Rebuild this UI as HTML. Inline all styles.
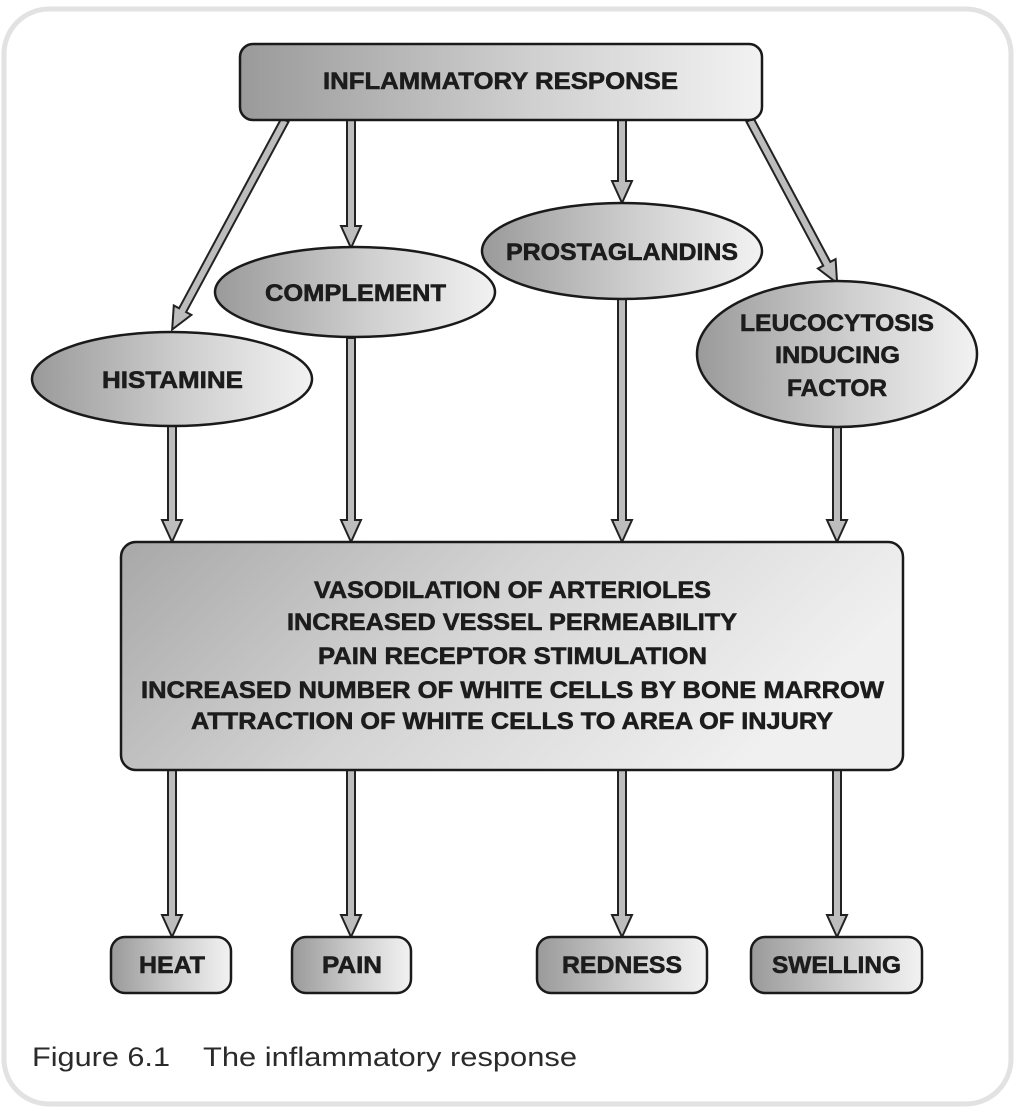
<!DOCTYPE html>
<html><head><meta charset="utf-8"><style>
html,body{margin:0;padding:0;background:#fff;}
svg{display:block;}
text{font-family:"Liberation Sans",Arial,sans-serif;}
</style></head><body>
<svg width="1019" height="1112" viewBox="0 0 1019 1112" xmlns="http://www.w3.org/2000/svg">
<defs>
<linearGradient id="g" x1="0" y1="0" x2="1" y2="0">
<stop offset="0" stop-color="#9a9a9a"/><stop offset="0.55" stop-color="#cfcfcf"/><stop offset="1" stop-color="#f2f2f2"/>
</linearGradient>
<linearGradient id="g2" x1="0" y1="0" x2="1" y2="0.3">
<stop offset="0" stop-color="#a8a8a8"/><stop offset="0.5" stop-color="#d4d4d4"/><stop offset="1" stop-color="#f0f0f0"/>
</linearGradient>
</defs>
<rect x="4" y="9" width="1007" height="1095" rx="45" fill="#fff" stroke="#e2e2e2" stroke-width="5"/>

<g fill="#bdbdbd" stroke="#222" stroke-width="2" stroke-linejoin="miter">
<g transform="translate(285,120) rotate(118.3)"><path d="M0,-4 L216,-4 L216,-10 L238,0 L216,10 L216,4 L0,4 Z"/></g>
<g transform="translate(750,120) rotate(61.9)"><path d="M0,-4 L163,-4 L163,-10 L185,0 L163,10 L163,4 L0,4 Z"/></g>
<g transform="translate(351,120) rotate(90)"><path d="M0,-4 L106,-4 L106,-10 L128,0 L106,10 L106,4 L0,4 Z"/></g>
<g transform="translate(622,120) rotate(90)"><path d="M0,-4 L61,-4 L61,-10 L83,0 L61,10 L61,4 L0,4 Z"/></g>
<g transform="translate(172,426) rotate(90)"><path d="M0,-4 L94,-4 L94,-10 L116,0 L94,10 L94,4 L0,4 Z"/></g>
<g transform="translate(351,338) rotate(90)"><path d="M0,-4 L182,-4 L182,-10 L204,0 L182,10 L182,4 L0,4 Z"/></g>
<g transform="translate(622,299) rotate(90)"><path d="M0,-4 L221,-4 L221,-10 L243,0 L221,10 L221,4 L0,4 Z"/></g>
<g transform="translate(837,427) rotate(90)"><path d="M0,-4 L93,-4 L93,-10 L115,0 L93,10 L93,4 L0,4 Z"/></g>
<g transform="translate(172,770) rotate(90)"><path d="M0,-4 L145,-4 L145,-10 L167,0 L145,10 L145,4 L0,4 Z"/></g>
<g transform="translate(351,770) rotate(90)"><path d="M0,-4 L145,-4 L145,-10 L167,0 L145,10 L145,4 L0,4 Z"/></g>
<g transform="translate(622,770) rotate(90)"><path d="M0,-4 L145,-4 L145,-10 L167,0 L145,10 L145,4 L0,4 Z"/></g>
<g transform="translate(837,770) rotate(90)"><path d="M0,-4 L145,-4 L145,-10 L167,0 L145,10 L145,4 L0,4 Z"/></g>
</g>

<g stroke="#1a1a1a" stroke-width="2.5">
<rect x="240" y="44" width="522" height="76" rx="13" fill="url(#g)"/>
<ellipse cx="172" cy="379" rx="140" ry="47" fill="url(#g)"/>
<ellipse cx="355" cy="292" rx="140" ry="45" fill="url(#g)"/>
<ellipse cx="622" cy="251" rx="140" ry="48" fill="url(#g)"/>
<ellipse cx="837" cy="354" rx="140" ry="73" fill="url(#g)"/>
<rect x="121" y="542" width="782" height="228" rx="15" fill="url(#g2)"/>
<rect x="111" y="937" width="120" height="56" rx="14" fill="url(#g)"/>
<rect x="292" y="937" width="119" height="56" rx="14" fill="url(#g)"/>
<rect x="537" y="937" width="170" height="56" rx="14" fill="url(#g)"/>
<rect x="751" y="937" width="171" height="56" rx="14" fill="url(#g)"/>
</g>

<g font-weight="bold" fill="#1c1c1c" stroke="#1c1c1c" stroke-width="0.6" font-size="24" lengthAdjust="spacingAndGlyphs">
<text x="323" y="89" textLength="355" lengthAdjust="spacingAndGlyphs">INFLAMMATORY RESPONSE</text>
<text x="102" y="388" textLength="141" lengthAdjust="spacingAndGlyphs">HISTAMINE</text>
<text x="265" y="301" textLength="181" lengthAdjust="spacingAndGlyphs">COMPLEMENT</text>
<text x="506" y="260" textLength="232" lengthAdjust="spacingAndGlyphs">PROSTAGLANDINS</text>
<text x="740" y="331" textLength="194" lengthAdjust="spacingAndGlyphs">LEUCOCYTOSIS</text>
<text x="775" y="363" textLength="125" lengthAdjust="spacingAndGlyphs">INDUCING</text>
<text x="787" y="396" textLength="100" lengthAdjust="spacingAndGlyphs">FACTOR</text>
<text x="314" y="598" textLength="397" lengthAdjust="spacingAndGlyphs">VASODILATION OF ARTERIOLES</text>
<text x="287" y="630" textLength="450" lengthAdjust="spacingAndGlyphs">INCREASED VESSEL PERMEABILITY</text>
<text x="318" y="664" textLength="389" lengthAdjust="spacingAndGlyphs">PAIN RECEPTOR STIMULATION</text>
<text x="141" y="698" textLength="743" lengthAdjust="spacingAndGlyphs">INCREASED NUMBER OF WHITE CELLS BY BONE MARROW</text>
<text x="191" y="729" textLength="642" lengthAdjust="spacingAndGlyphs">ATTRACTION OF WHITE CELLS TO AREA OF INJURY</text>
<text x="139" y="973" textLength="66" lengthAdjust="spacingAndGlyphs">HEAT</text>
<text x="322" y="973" textLength="60" lengthAdjust="spacingAndGlyphs">PAIN</text>
<text x="562" y="973" textLength="120" lengthAdjust="spacingAndGlyphs">REDNESS</text>
<text x="772" y="973" textLength="129" lengthAdjust="spacingAndGlyphs">SWELLING</text>
</g>
<text x="32" y="1066" font-size="27" fill="#2a2a2a" textLength="138" lengthAdjust="spacingAndGlyphs">Figure 6.1</text>
<text x="203" y="1066" font-size="27" fill="#2a2a2a" textLength="374" lengthAdjust="spacingAndGlyphs">The inflammatory response</text>
</svg>
</body></html>
